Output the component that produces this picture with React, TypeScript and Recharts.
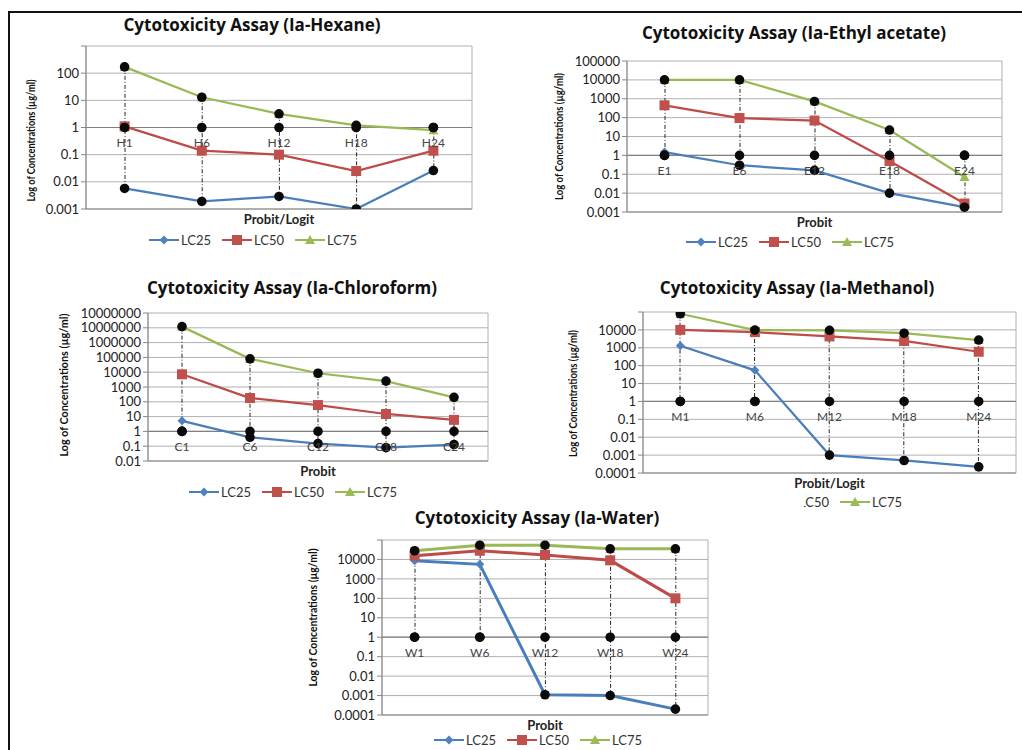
import React from 'react';
import { ComposedChart, Line, Bar, XAxis, YAxis, CartesianGrid, ReferenceLine, LabelList } from 'recharts';

// Hexane
const hexaneCats = ['H1', 'H6', 'H12', 'H18', 'H24'];
const hexaneLC25 = [0.0057, 0.0019, 0.0029, 0.001, 0.026];
const hexaneLC50 = [1.1, 0.14, 0.1, 0.025, 0.14];
const hexaneLC75 = [170, 13, 3.2, 1.2, 0.8];
const hexaneTicks = [0.001, 0.01, 0.1, 1, 10, 100, 1000];
const hexaneTickLabels = ['0.001', '0.01', '0.1', '1', '10', '100', ''];

// Ethyl acetate
const ethylCats = ['E1', 'E6', 'E12', 'E18', 'E24'];
const ethylLC25 = [1.5, 0.3, 0.16, 0.01, 0.0018];
const ethylLC50 = [450, 95, 70, 0.5, 0.0028];
const ethylLC75 = [10000, 10000, 720, 22, 0.072];
const ethylTicks = [0.001, 0.01, 0.1, 1, 10, 100, 1000, 10000, 100000];
const ethylTickLabels = ['0.001', '0.01', '0.1', '1', '10', '100', '1000', '10000', '100000'];

// Chloroform
const chloroCats = ['C1', 'C6', 'C12', 'C18', 'C24'];
const chloroLC25 = [5.2, 0.4, 0.15, 0.08, 0.13];
const chloroLC50 = [7200, 180, 60, 15, 6];
const chloroLC75 = [12000000, 80000, 8500, 2500, 200];
const chloroTicks = [0.01, 0.1, 1, 10, 100, 1000, 10000, 100000, 1000000, 10000000, 100000000];
const chloroTickLabels = ['0.01', '0.1', '1', '10', '100', '1000', '10000', '100000', '1000000', '10000000', '10000000'];

// Methanol
const methCats = ['M1', 'M6', 'M12', 'M18', 'M24'];
const methLC25 = [1300, 55, 0.001, 0.0005, 0.00022];
const methLC50 = [10000, 7500, 4300, 2400, 600];
const methLC75 = [80000, 9800, 9500, 6500, 2700];
const methTicks = [0.0001, 0.001, 0.01, 0.1, 1, 10, 100, 1000, 10000, 100000];
const methTickLabels = ['0.0001', '0.001', '0.01', '0.1', '1', '10', '100', '1000', '10000', ''];

// Water
const waterCats = ['W1', 'W6', 'W12', 'W18', 'W24'];
const waterLC25 = [8500, 5600, 0.0011, 0.001, 0.0002];
const waterLC50 = [15500, 28000, 17000, 9000, 100];
const waterLC75 = [28000, 54000, 54000, 35000, 35000];
const waterTicks = [0.0001, 0.001, 0.01, 0.1, 1, 10, 100, 1000, 10000, 100000];
const waterTickLabels = ['0.0001', '0.001', '0.01', '0.1', '1', '10', '100', '1000', '10000', ''];

const seriesNames = ['LC25', 'LC50', 'LC75'];
const lineColors = ['#4a7ebb', '#be4b48', '#98b954'];
const markerColors = ['#4f81bd', '#c0504d', '#9bbb59'];

const FONT = 'Lato, "Open Sans", sans-serif';
const TITLE_FONT = '"Open Sans", Lato, sans-serif';
const Y_LABEL = 'Log of Concentrations (µg/ml)';

type Rect = { l: number; t: number; r: number; b: number };
type Spec = {
  title: string;
  cats: string[];
  lc25: number[];
  lc50: number[];
  lc75: number[];
  ticks: number[];
  tickLabels: string[];
  xTitle: string;
  box: Rect;
  plot: Rect;
  titleAt: [number, number];
  legendAt: [number, number];
  yLabelX: number;
  yLabelLen: number;
  yLabelShift: number;
  lineW: number;
};

const markerShape = (i: number, cx: number, cy: number, key?: string) => {
  if (cx == null || cy == null) return <g key={key} />;
  if (i === 0) {
    const s = 4.5;
    return <path key={key} d={`M${cx},${cy - s}L${cx + s},${cy}L${cx},${cy + s}L${cx - s},${cy}Z`} fill={markerColors[0]} />;
  }
  if (i === 1) {
    const s = 5;
    return <rect key={key} x={cx - s} y={cy - s} width={2 * s} height={2 * s} fill={markerColors[1]} />;
  }
  const s = 5;
  return <path key={key} d={`M${cx},${cy - s}L${cx + s},${cy + s * 0.8}L${cx - s},${cy + s * 0.8}Z`} fill={markerColors[2]} />;
};

const blackDot = (name: string) => (p: any) =>
  p.cx == null ? <g key={`${name}-${p.index}`} /> : <circle key={`${name}-${p.index}`} cx={p.cx} cy={p.cy} r={4.8} fill="#0a0a0a" />;

const HighLow = (p: any) => {
  const x = p.x + p.width / 2;
  return <line x1={x} x2={x} y1={p.y} y2={p.y + p.height} stroke="#222" strokeWidth={1} strokeDasharray="4 2 1 2" />;
};

const LegendRow = ({ at }: { at: [number, number] }) => (
  <div
    style={{
      position: 'absolute', left: at[0] - 125, top: at[1] - 8, width: 250, height: 16,
      display: 'flex', justifyContent: 'center', alignItems: 'center', gap: 11,
      fontFamily: FONT, fontSize: 13, color: '#333', lineHeight: '16px',
    }}
  >
    {seriesNames.map((n, i) => (
      <div key={n} style={{ display: 'flex', alignItems: 'center' }}>
        <svg width={30} height={12}>
          <line x1={0} x2={30} y1={6} y2={6} stroke={lineColors[i]} strokeWidth={2} />
          {markerShape(i, 15, 6)}
        </svg>
        <span style={{ marginLeft: 2 }}>{n}</span>
      </div>
    ))}
  </div>
);

function AssayChart({ spec }: { spec: Spec }) {
  const { box, plot } = spec;
  const rows = spec.cats.map((cat, i) => {
    const vals = [spec.lc25[i], spec.lc50[i], spec.lc75[i], 1];
    const high = Math.max(...vals);
    const low = Math.min(...vals);
    return { cat, lc25: spec.lc25[i], lc50: spec.lc50[i], lc75: spec.lc75[i], axis: 1, high, low, span: [low, high] };
  });
  const yw = plot.l - box.l;
  const xh = 22;
  const margin = { top: plot.t - box.t, right: box.r - plot.r, bottom: box.b - plot.b - xh, left: 0 };
  const t0 = spec.ticks[0];
  const t1 = spec.ticks[spec.ticks.length - 1];

  return (
    <>
      <div
        style={{
          position: 'absolute', left: spec.titleAt[0] - 220, top: spec.titleAt[1] - 12, width: 440,
          textAlign: 'center', fontFamily: TITLE_FONT, fontWeight: 700, fontSize: 17, lineHeight: '24px', color: '#111',
        }}
      >
        {spec.title}
      </div>
      <div style={{ position: 'absolute', left: box.l, top: box.t }}>
        <ComposedChart width={box.r - box.l} height={box.b - box.t} data={rows} margin={margin}>
          <CartesianGrid
            stroke="#b0b0b0"
            verticalCoordinatesGenerator={({ offset }: any) => [offset.left, offset.left + offset.width]}
          />
          <XAxis
            dataKey="cat"
            tick={false}
            tickLine={false}
            height={xh}
            axisLine={{ stroke: '#868686' }}
            label={{
              content: (p: any) => (
                <text
                  x={p.viewBox.x + p.viewBox.width / 2}
                  y={p.viewBox.y + 10}
                  textAnchor="middle"
                  dominantBaseline="central"
                  fontFamily={FONT}
                  fontWeight={700}
                  fontSize={13}
                  fill="#222"
                >
                  {spec.xTitle}
                </text>
              ),
            }}
          />
          <YAxis
            type="number"
            scale="log"
            domain={[t0, t1]}
            ticks={spec.ticks}
            interval={0}
            allowDataOverflow
            width={yw}
            tickSize={5}
            tickLine={{ stroke: '#868686' }}
            axisLine={{ stroke: '#868686' }}
            tick={{ fill: '#222', fontSize: 13, fontFamily: FONT }}
            tickFormatter={(v: number) => spec.tickLabels[spec.ticks.indexOf(v)] ?? ''}
            label={{
              content: (p: any) => {
                const cx = spec.yLabelX - box.l;
                const cy = p.viewBox.y + p.viewBox.height / 2 + spec.yLabelShift;
                return (
                  <text
                    x={cx}
                    y={cy}
                    transform={`rotate(-90 ${cx} ${cy})`}
                    textAnchor="middle"
                    dominantBaseline="central"
                    fontFamily={FONT}
                    fontWeight={700}
                    fontSize={11}
                    textLength={spec.yLabelLen}
                    lengthAdjust="spacingAndGlyphs"
                    fill="#111"
                  >
                    {Y_LABEL}
                  </text>
                );
              },
            }}
          />
          <ReferenceLine y={1} stroke="#808080" strokeWidth={1.2} />
          <Bar dataKey="span" barSize={4} shape={HighLow} isAnimationActive={false} legendType="none" />
          <Line dataKey="lc25" stroke={lineColors[0]} strokeWidth={spec.lineW} dot={(p: any) => markerShape(0, p.cx, p.cy, `a-${p.index}`)} activeDot={false} isAnimationActive={false} />
          <Line dataKey="lc50" stroke={lineColors[1]} strokeWidth={spec.lineW} dot={(p: any) => markerShape(1, p.cx, p.cy, `b-${p.index}`)} activeDot={false} isAnimationActive={false} />
          <Line dataKey="lc75" stroke={lineColors[2]} strokeWidth={spec.lineW} dot={(p: any) => markerShape(2, p.cx, p.cy, `c-${p.index}`)} activeDot={false} isAnimationActive={false} />
          <Line dataKey="axis" stroke="none" dot={blackDot('ax')} activeDot={false} isAnimationActive={false} legendType="none">
            <LabelList dataKey="cat" position="bottom" offset={11} fill="#444" fontSize={12} fontFamily={FONT} />
          </Line>
          <Line dataKey="high" stroke="none" dot={blackDot('hi')} activeDot={false} isAnimationActive={false} legendType="none" />
          <Line dataKey="low" stroke="none" dot={blackDot('lo')} activeDot={false} isAnimationActive={false} legendType="none" />
        </ComposedChart>
      </div>
      <LegendRow at={spec.legendAt} />
    </>
  );
}

const hexaneSpec: Spec = {
  title: 'Cytotoxicity Assay (Ia-Hexane)', cats: hexaneCats, lc25: hexaneLC25, lc50: hexaneLC50, lc75: hexaneLC75,
  ticks: hexaneTicks, tickLabels: hexaneTickLabels, xTitle: 'Probit/Logit',
  box: { l: 16, t: 40, r: 486, b: 234 }, plot: { l: 86, t: 46, r: 472, b: 209 },
  titleAt: [252, 25], legendAt: [253, 240], yLabelX: 30, yLabelLen: 122, yLabelShift: 13, lineW: 2.25,
};

const ethylSpec: Spec = {
  title: 'Cytotoxicity Assay (Ia-Ethyl acetate)', cats: ethylCats, lc25: ethylLC25, lc50: ethylLC50, lc75: ethylLC75,
  ticks: ethylTicks, tickLabels: ethylTickLabels, xTitle: 'Probit',
  box: { l: 545, t: 52, r: 1016, b: 238 }, plot: { l: 627, t: 61, r: 1002, b: 212 },
  titleAt: [794, 33], legendAt: [790, 242], yLabelX: 558, yLabelLen: 127, yLabelShift: 0, lineW: 2.25,
};

const chloroSpec: Spec = {
  title: 'Cytotoxicity Assay (Ia-Chloroform)', cats: chloroCats, lc25: chloroLC25, lc50: chloroLC50, lc75: chloroLC75,
  ticks: chloroTicks, tickLabels: chloroTickLabels, xTitle: 'Probit',
  box: { l: 40, t: 305, r: 500, b: 486 }, plot: { l: 148, t: 313, r: 488, b: 461 },
  titleAt: [292, 288], legendAt: [293, 492], yLabelX: 63, yLabelLen: 143, yLabelShift: -2, lineW: 2.25,
};

const methSpec: Spec = {
  title: 'Cytotoxicity Assay (Ia-Methanol)', cats: methCats, lc25: methLC25, lc50: methLC50, lc75: methLC75,
  ticks: methTicks, tickLabels: methTickLabels, xTitle: 'Probit/Logit',
  box: { l: 555, t: 302, r: 1021, b: 496 }, plot: { l: 643, t: 312, r: 1016, b: 473 },
  titleAt: [797, 288], legendAt: [798, 502], yLabelX: 572, yLabelLen: 127, yLabelShift: 1, lineW: 2.25,
};

const waterSpec: Spec = {
  title: 'Cytotoxicity Assay (Ia-Water)', cats: waterCats, lc25: waterLC25, lc50: waterLC50, lc75: waterLC75,
  ticks: waterTicks, tickLabels: waterTickLabels, xTitle: 'Probit',
  box: { l: 285, t: 530, r: 720, b: 738 }, plot: { l: 382, t: 540, r: 708, b: 715 },
  titleAt: [537, 518], legendAt: [538, 740], yLabelX: 312, yLabelLen: 138, yLabelShift: -10, lineW: 3,
};

export default function App() {
  return (
    <div style={{ position: 'absolute', left: 0, top: 0, width: 1022, height: 750, background: '#fff', overflow: 'hidden' }}>
      <div style={{ position: 'absolute', left: 8, top: 11, width: 1020, height: 745, borderTop: '2px solid #111', borderLeft: '2px solid #111' }} />
      <AssayChart spec={hexaneSpec} />
      <AssayChart spec={ethylSpec} />
      <AssayChart spec={chloroSpec} />
      <AssayChart spec={methSpec} />
      <div style={{ position: 'absolute', left: 285, top: 497, width: 519, height: 253, background: '#fff' }} />
      <div style={{ position: 'absolute', left: 420, top: 489, width: 384, height: 10, background: '#fff' }} />
      <AssayChart spec={waterSpec} />
    </div>
  );
}
